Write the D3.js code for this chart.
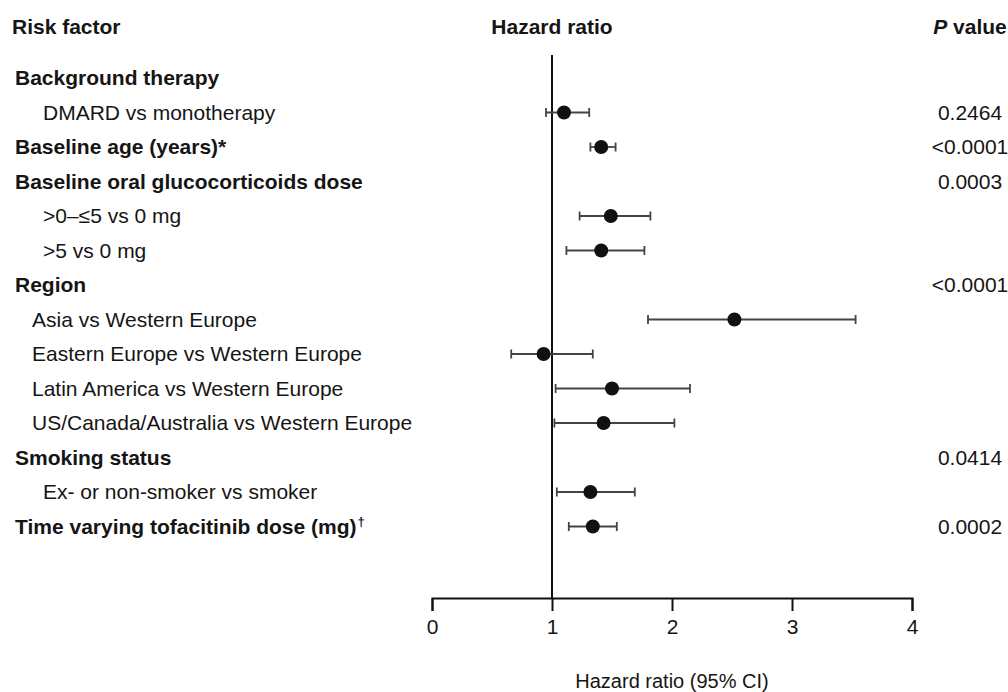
<!DOCTYPE html>
<html>
<head>
<meta charset="utf-8">
<script src="https://cdnjs.cloudflare.com/ajax/libs/d3/7.8.5/d3.min.js"></script>
<style>
  body { margin: 0; background: #fff; }
  svg text { font-family: "Liberation Sans", Arial, Helvetica, sans-serif; fill: #151515; }
</style>
</head>
<body>
<svg id="chart" width="1008" height="692"></svg>
<script>
// rows of the forest plot, top to bottom
var labels = [
  'Background therapy',
  'DMARD vs monotherapy',
  'Baseline age (years)*',
  'Baseline oral glucocorticoids dose',
  '>0\u2013\u22645 vs 0 mg',
  '>5 vs 0 mg',
  'Region',
  'Asia vs Western Europe',
  'Eastern Europe vs Western Europe',
  'Latin America vs Western Europe',
  'US/Canada/Australia vs Western Europe',
  'Smoking status',
  'Ex- or non-smoker vs smoker',
  'Time varying tofacitinib dose (mg)'
];
// footnote marks set as superscripts after the label
var footnotes = ['', '', '', '', '', '', '', '', '', '', '', '', '', '\u2020'];
var rowTypes = ['group', 'item', 'group', 'group', 'item', 'item', 'group',
  'region', 'region', 'region', 'region', 'group', 'item', 'group'];

var hazard = [null, 1.10, 1.41, null, 1.49, 1.41, null, 2.52, 0.93, 1.50, 1.43, null, 1.32, 1.34];
var lower  = [null, 0.95, 1.32, null, 1.23, 1.12, null, 1.80, 0.66, 1.03, 1.02, null, 1.04, 1.14];
var upper  = [null, 1.31, 1.53, null, 1.82, 1.77, null, 3.53, 1.34, 2.15, 2.02, null, 1.69, 1.54];
var pValues = ['', '0.2464', '<0.0001', '0.0003', '', '', '<0.0001', '', '', '', '', '0.0414', '', '0.0002'];

var ticks = [0, 1, 2, 3, 4];

var svg = d3.select('#chart');

var x = d3.scaleLinear().domain([0, 4]).range([432, 912]);
var y = d3.scaleLinear().domain([0, labels.length - 1]).range([78, 526.5]);
var axisY = 598;

var rows = labels.map(function(label, i) {
  return { label: label, note: footnotes[i], type: rowTypes[i], hr: hazard[i], lo: lower[i], hi: upper[i], p: pValues[i], i: i };
});

// column headers
var headers = svg.append('g').attr('font-size', 21).attr('font-weight', 'bold');
headers.append('text').attr('x', 12).attr('y', 27).attr('dy', '0.35em').text('Risk factor');
headers.append('text').attr('x', x(1)).attr('y', 27).attr('dy', '0.35em')
  .attr('text-anchor', 'middle').text('Hazard ratio');
var pHead = headers.append('text').attr('x', 970).attr('y', 27).attr('dy', '0.35em')
  .attr('text-anchor', 'middle');
pHead.append('tspan').attr('font-style', 'italic').text('P');
pHead.append('tspan').text(' value');

// row labels
var indent = { group: 15, item: 43, region: 32 };
var rowText = svg.append('g').selectAll('text')
  .data(rows)
  .enter().append('text')
  .attr('x', function(d) { return indent[d.type]; })
  .attr('y', function(d) { return y(d.i); })
  .attr('dy', '0.35em')
  .attr('font-size', 21)
  .attr('font-weight', function(d) { return d.type === 'group' ? 'bold' : 'normal'; });
rowText.append('tspan').text(function(d) { return d.label; });
rowText.filter(function(d) { return d.note; })
  .append('tspan')
  .attr('font-size', 13)
  .attr('dy', '-0.6em')
  .attr('dx', 1)
  .text(function(d) { return d.note; });

// p values
svg.append('g').selectAll('text')
  .data(rows.filter(function(d) { return d.p; }))
  .enter().append('text')
  .attr('x', 970)
  .attr('y', function(d) { return y(d.i); })
  .attr('dy', '0.35em')
  .attr('text-anchor', 'middle')
  .attr('font-size', 21)
  .text(function(d) { return d.p; });

// line of no effect
svg.append('line')
  .attr('x1', x(1)).attr('x2', x(1))
  .attr('y1', 55).attr('y2', axisY)
  .attr('stroke', '#111').attr('stroke-width', 2);

// x axis
var axis = svg.append('g')
  .attr('transform', 'translate(0,' + axisY + ')')
  .call(d3.axisBottom(x).tickValues(ticks).tickFormat(d3.format('d')).tickSize(13).tickSizeOuter(13).tickPadding(8));
axis.select('.domain').attr('stroke', '#111').attr('stroke-width', 2);
axis.selectAll('.tick line').attr('stroke', '#111').attr('stroke-width', 2);
axis.selectAll('.tick text')
  .attr('font-size', 21)
  .attr('font-family', '"Liberation Sans", Arial, sans-serif')
  .attr('fill', '#151515');

svg.append('text')
  .attr('x', x(2)).attr('y', 682).attr('dy', '0.3em')
  .attr('text-anchor', 'middle')
  .attr('font-size', 20)
  .text('Hazard ratio (95% CI)');

// confidence intervals and point estimates
var estimates = rows.filter(function(d) { return d.hr !== null; });
var marks = svg.append('g').selectAll('g')
  .data(estimates)
  .enter().append('g')
  .attr('transform', function(d) { return 'translate(0,' + y(d.i) + ')'; });

marks.append('line')
  .attr('x1', function(d) { return x(d.lo); })
  .attr('x2', function(d) { return x(d.hi); })
  .attr('stroke', '#444').attr('stroke-width', 1.8);

marks.selectAll('line.cap')
  .data(function(d) { return [d.lo, d.hi]; })
  .enter().append('line')
  .attr('class', 'cap')
  .attr('x1', function(v) { return x(v); })
  .attr('x2', function(v) { return x(v); })
  .attr('y1', -4.5).attr('y2', 4.5)
  .attr('stroke', '#444').attr('stroke-width', 1.8);

marks.append('circle')
  .attr('cx', function(d) { return x(d.hr); })
  .attr('r', 7)
  .attr('fill', '#111');
</script>
</body>
</html>
